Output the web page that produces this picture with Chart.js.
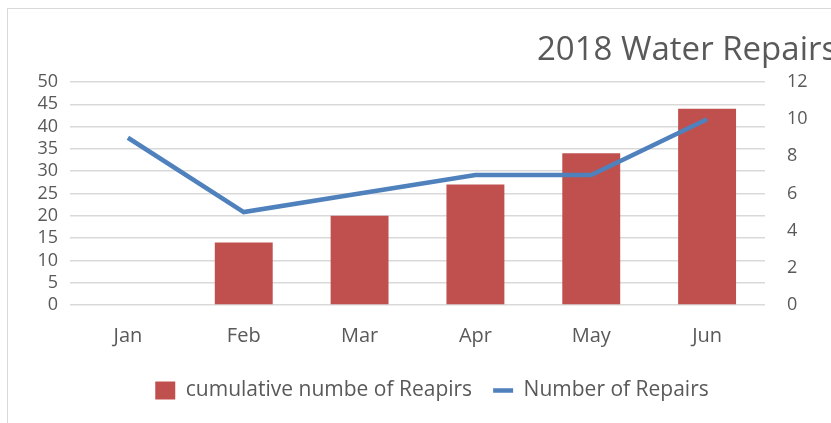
<!DOCTYPE html>
<html lang="en">
<head>
  <meta charset="UTF-8">
  <title>2018 Water Repairs</title>
  <script src="https://cdn.jsdelivr.net/npm/chart.js"></script>
  <style>
    html, body { margin: 0; padding: 0; background: #fff; overflow: hidden; }
    .frame { position: absolute; left: 7px; top: 8px; width: 860px; height: 430px;
             border-left: 1px solid #d9d9d9; border-top: 1px solid #d9d9d9; }
    .box { position: absolute; left: 0; top: 0; width: 848px; height: 414px; }
  </style>
</head>
<body>
  <div class="frame">
    <div class="box"><canvas id="chart"></canvas></div>
  </div>
  <script>
    // data
    const months = ['Jan', 'Feb', 'Mar', 'Apr', 'May', 'Jun'];
    const cumulativeRepairs = [0, 14, 20, 27, 34, 44];
    const monthlyRepairs = [9, 5, 6, 7, 7, 10];
    const leftTicks = { min: 0, max: 50, step: 5 };
    const rightTicks = { min: 0, max: 12, step: 2 };

    const grey = '#595959';
    const font = "'Open Sans', 'Noto Sans', sans-serif";

    // title sits off-centre and runs past the right edge, so draw it by hand
    const titlePlugin = {
      id: 'offTitle',
      afterDraw(chart) {
        const ctx = chart.ctx;
        ctx.save();
        ctx.font = '33px ' + font;
        ctx.fillStyle = grey;
        ctx.textBaseline = 'middle';
        ctx.fillText('2018 Water Repairs', 529, 42);
        ctx.restore();
      }
    };

    new Chart(document.getElementById('chart'), {
      data: {
        labels: months,
        datasets: [
          {
            type: 'line',
            label: 'Number of Repairs',
            data: monthlyRepairs,
            yAxisID: 'y2',
            borderColor: '#4f81bd',
            backgroundColor: '#4f81bd',
            borderWidth: 4.5,
            pointRadius: 0,
            tension: 0,
            order: 1,
            pointStyle: 'line'
          },
          {
            type: 'bar',
            label: 'cumulative numbe of Reapirs',
            data: cumulativeRepairs,
            yAxisID: 'y',
            backgroundColor: '#c0504d',
            categoryPercentage: 1,
            barPercentage: 0.5,
            order: 2,
            pointStyle: 'rect'
          }
        ]
      },
      plugins: [titlePlugin],
      options: {
        responsive: true,
        maintainAspectRatio: false,
        animation: false,
        layout: { padding: { top: 73, bottom: 12 } },
        scales: {
          x: {
            grid: { display: false },
            border: { display: false },
            ticks: { color: grey, font: { family: font, size: 20 }, padding: 11 }
          },
          y: {
            position: 'left',
            min: leftTicks.min,
            max: leftTicks.max,
            afterFit(scale) { scale.width = 62; },
            grid: { color: '#d9d9d9', lineWidth: 1.5, drawTicks: false },
            border: { display: false },
            ticks: { stepSize: leftTicks.step, autoSkip: false, color: grey, font: { family: font, size: 18 }, padding: 12 }
          },
          y2: {
            position: 'right',
            min: rightTicks.min,
            max: rightTicks.max,
            afterFit(scale) { scale.width = 91; },
            grid: { display: false },
            border: { display: false },
            ticks: { stepSize: rightTicks.step, autoSkip: false, color: grey, font: { family: font, size: 18 }, padding: 14 }
          }
        },
        plugins: {
          legend: {
            position: 'bottom',
            reverse: true,
            labels: {
              usePointStyle: true,
              pointStyleWidth: 20,
              boxHeight: 18,
              color: grey,
              font: { family: font, size: 21 },
              padding: 21
            }
          },
          tooltip: { enabled: false }
        }
      }
    });
  </script>
</body>
</html>
